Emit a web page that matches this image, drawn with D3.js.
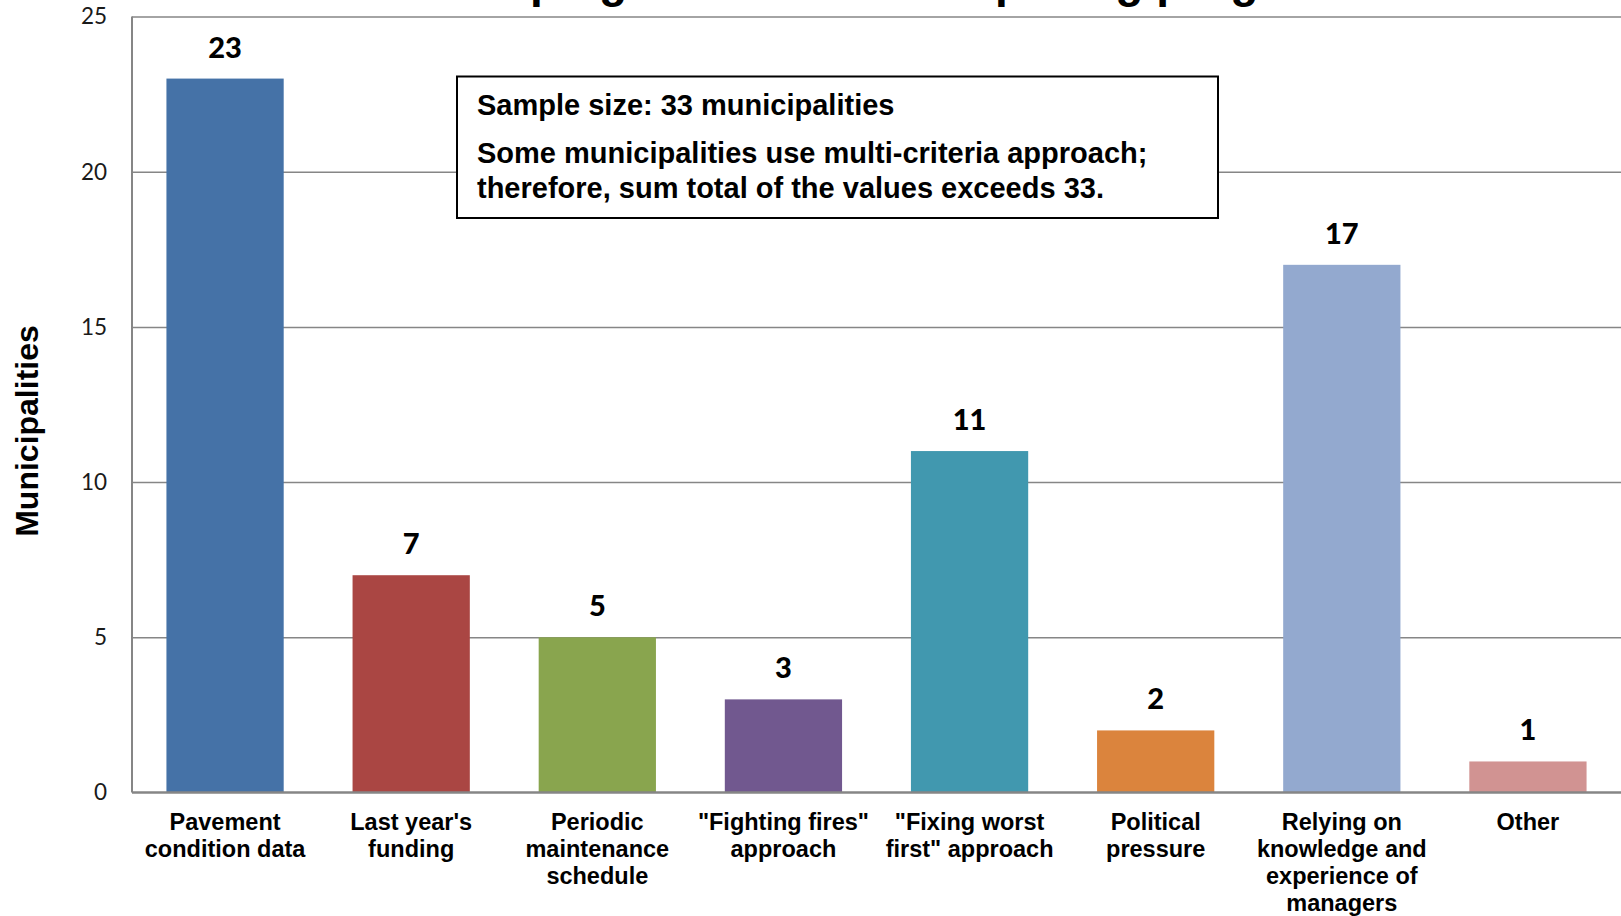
<!DOCTYPE html>
<html>
<head>
<meta charset="utf-8">
<script src="https://cdn.jsdelivr.net/npm/d3@7"></script>
<style>
  body { margin: 0; background: #fff; }
  svg { display: block; }
  .grid line { stroke: #868686; stroke-width: 1.5; }
  .grid path { display: none; }
  .tickLabel { font-family: Lato, "Open Sans", sans-serif; font-size: 22.5px; fill: #1a1a1a; }
  .catLabel { font-family: "Liberation Sans", Arial, sans-serif; font-weight: bold; font-size: 23.5px; fill: #000; }
  .valLabel { font-family: Lato, "Open Sans", sans-serif; font-weight: 900; font-size: 29px; fill: #000; }
</style>
</head>
<body>
<div id="chart"></div>
<script>
// chart data
const categories = ["Pavement condition data", "Last year's funding", "Periodic maintenance schedule",
  "\"Fighting fires\" approach", "\"Fixing worst first\" approach", "Political pressure",
  "Relying on knowledge and experience of managers", "Other"]
// how the category labels wrap under the bars
const categoryLines = [
  ["Pavement", "condition data"],
  ["Last year's", "funding"],
  ["Periodic", "maintenance", "schedule"],
  ["\"Fighting fires\"", "approach"],
  ["\"Fixing worst", "first\" approach"],
  ["Political", "pressure"],
  ["Relying on", "knowledge and", "experience of", "managers"],
  ["Other"]
]
const municipalities = [23, 7, 5, 3, 11, 2, 17, 1]
const barColors = ["#4572A7", "#AA4643", "#89A54E", "#71588F", "#4198AF", "#DB843D", "#93A9CF", "#D19392"]
const yTicks = [0, 5, 10, 15, 20, 25]
const chartTitle = "Criteria for developing the annual road paving program"
const yTitle = "Municipalities"
const noteLines = ["Sample size: 33 municipalities",
  "Some municipalities use multi-criteria approach;",
  "therefore, sum total of the values exceeds 33."]

const svgWidth = 1621
const svgHeight = 916
//plot area position
const plot = { left: 132, right: 1621, top: 16.5, bottom: 792.5 }

const svg = d3.select("#chart").append("svg")
  .attr("width", svgWidth)
  .attr("height", svgHeight)

const xScale = d3.scaleBand()
  .domain(categories)
  .range([plot.left, plot.right])
  .paddingInner(0.37)
  .paddingOuter(0.185)

const yScale = d3.scaleLinear()
  .domain([0, 25])
  .range([plot.bottom, plot.top])

//title, mostly cut off by the top of the picture
const title = svg.append("text")
  .attr("x", 0)
  .attr("y", -3.5)
  .style("font-family", "'Liberation Sans', Arial, sans-serif")
  .style("font-weight", "bold")
  .style("font-size", "46px")
  .text(chartTitle)
// put the "p" of "developing" where it sits in the picture
const pIndex = chartTitle.indexOf("developing") + 6
const pX = title.node().getStartPositionOfChar(pIndex).x
title.attr("x", 530 - pX)

//horizontal gridlines
svg.append("g")
  .attr("class", "grid")
  .attr("transform", "translate(" + plot.left + ",0)")
  .call(d3.axisLeft(yScale).tickValues(yTicks.slice(1)).tickSize(-(plot.right - plot.left)).tickFormat(""))

//tick labels
svg.append("g").selectAll("text")
  .data(yTicks)
  .join("text")
  .attr("class", "tickLabel")
  .attr("x", plot.left - 25)
  .attr("y", d => yScale(d))
  .attr("dy", "0.35em")
  .attr("text-anchor", "end")
  .text(d => d)

//bars
svg.append("g").selectAll("rect")
  .data(municipalities)
  .join("rect")
  .attr("x", (d, i) => xScale(categories[i]))
  .attr("y", d => yScale(d))
  .attr("width", xScale.bandwidth())
  .attr("height", d => yScale(0) - yScale(d))
  .attr("fill", (d, i) => barColors[i])

//value labels
svg.append("g").selectAll("text")
  .data(municipalities)
  .join("text")
  .attr("class", "valLabel")
  .attr("x", (d, i) => xScale(categories[i]) + xScale.bandwidth() / 2)
  .attr("y", d => yScale(d) - 21)
  .attr("text-anchor", "middle")
  .text(d => d)

//left axis line and baseline
svg.append("line").attr("x1", plot.left).attr("y1", plot.top).attr("x2", plot.left).attr("y2", plot.bottom)
  .attr("stroke", "#868686").attr("stroke-width", 2)
svg.append("line").attr("x1", plot.left).attr("y1", yScale(0)).attr("x2", plot.right).attr("y2", yScale(0))
  .attr("stroke", "#868686").attr("stroke-width", 2.5)

//category labels
const catG = svg.append("g").selectAll("text")
  .data(categories)
  .join("text")
  .attr("class", "catLabel")
  .attr("text-anchor", "middle")
  .attr("x", d => xScale(d) + xScale.bandwidth() / 2)
  .attr("y", 830)
catG.each(function(d, i) {
  const t = d3.select(this)
  categoryLines[i].forEach((line, j) => {
    t.append("tspan")
      .attr("x", xScale(d) + xScale.bandwidth() / 2)
      .attr("dy", j === 0 ? 0 : 27)
      .text(line)
  })
})

//y axis title
svg.append("text")
  .attr("transform", "translate(38,431) rotate(-90)")
  .attr("text-anchor", "middle")
  .style("font-family", "'Liberation Sans', Arial, sans-serif")
  .style("font-weight", "bold")
  .style("font-size", "32px")
  .text(yTitle)

//note box
const note = svg.append("g")
note.append("rect")
  .attr("x", 457).attr("y", 76.5)
  .attr("width", 761).attr("height", 141.5)
  .attr("fill", "#fff")
  .attr("stroke", "#000")
  .attr("stroke-width", 2)
const noteY = [115, 163, 198]
note.selectAll("text")
  .data(noteLines)
  .join("text")
  .attr("x", 477)
  .attr("y", (d, i) => noteY[i])
  .style("font-family", "'Liberation Sans', Arial, sans-serif")
  .style("font-weight", "bold")
  .style("font-size", "29px")
  .text(d => d)
</script>
</body>
</html>
